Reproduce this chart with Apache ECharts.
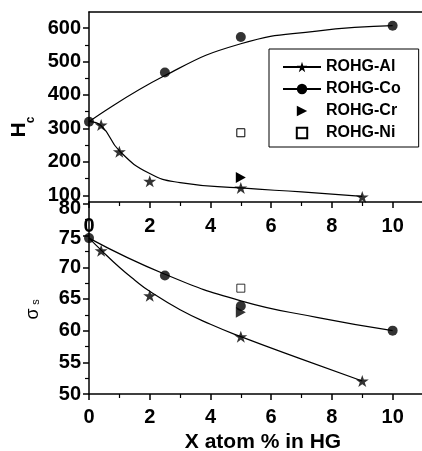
<!DOCTYPE html>
<html><head><meta charset="utf-8">
<script src="https://cdn.jsdelivr.net/npm/echarts@6/dist/echarts.min.js"></script>
<style>html,body{margin:0;padding:0;background:#fff}#c{width:422px;height:451px}</style>
</head><body><div id="c"></div>
<script>
// tick values
const xTickLabels = [0, 2, 4, 6, 8, 10];
const xMinorTicks = [1, 3, 5, 7, 9];
const hcTickLabels = [100, 200, 300, 400, 500, 600];
const hcMinorTicks = [150, 250, 350, 450, 550];
const sTickLabels = [50, 55, 60, 65, 70, 75, 80];
const sMinorTicks = [52.5, 57.5, 62.5, 67.5, 72.5, 77.5];

// series names
const names = ['ROHG-Al', 'ROHG-Co', 'ROHG-Cr', 'ROHG-Ni'];

// Hc data points
const alX = [0.4, 1, 2, 5, 9];
const alHc = [310, 230, 142, 122, 95];
const coX = [0, 2.5, 5, 10];
const coHc = [320, 467, 573, 607];
const crX = [5];
const crHc = [153];
const niX = [5];
const niHc = [287];

// sigma_s data points
const alSX = [0.4, 2, 5, 9];
const alS = [72.6, 65.5, 59.05, 52.05];
const coSX = [0, 2.5, 5, 10];
const coS = [74.6, 68.7, 63.9, 60.0];
const crS = [62.9];
const niS = [66.7];

// fitted curves
const alHcFitX = [0, 0.4, 1, 2, 3, 5, 7, 9];
const alHcFit = [320, 308, 233, 165, 138, 122, 110, 97];
const coHcFitX = [0, 2.5, 5, 7.5, 10];
const coHcFit = [320, 458, 553, 591, 607];
const alSFitX = [0, 0.4, 1, 1.5, 2, 3, 4, 5, 7, 9];
const alSFit = [74.6, 72.7, 70.0, 68.0, 66.2, 63.3, 61.0, 59.05, 55.5, 52.05];
const coSFitX = [0, 2.5, 5, 7.5, 10];
const coSFit = [74.6, 68.9, 64.7, 62.1, 60.0];

const pts = (xs, ys) => xs.map((x, i) => [x, ys[i]]);
const FONT = 'Liberation Sans';
const STAR = 'path://M12,0 L14.9,8.6 L24,8.6 L16.6,14 L19.4,22.8 L12,17.4 L4.6,22.8 L7.4,14 L0,8.6 L9.1,8.6 Z';
const TRI = 'path://M0,0 L11,6 L0,12 Z';
const BLACK = '#000';

const chart = echarts.init(document.getElementById('c'), null, {renderer: 'canvas'});

const lbl = {color: BLACK, fontFamily: FONT, fontWeight: 'bold', fontSize: 20};
const gridBase = {containLabel: false, outerBoundsMode: 'none'};
const G0 = Object.assign({left: 89, top: 12, width: 334, height: 190}, gridBase);
const G1 = Object.assign({left: 89, top: 202, width: 334, height: 192}, gridBase);

function majorX(grid, pos, margin) {
  return {
    gridIndex: grid, type: 'value', min: 0, max: 11, position: pos,
    axisLine: {show: true, lineStyle: {color: BLACK, width: 1.5}},
    axisTick: {show: true, customValues: xTickLabels, length: 6, inside: false, lineStyle: {color: BLACK, width: 1.5}},
    axisLabel: Object.assign({show: true, customValues: xTickLabels, margin: margin}, lbl),
    splitLine: {show: false}
  };
}
function minorX(grid) {
  return {
    gridIndex: grid, type: 'value', min: 0, max: 11, position: 'bottom',
    axisLine: {show: false},
    axisTick: {show: true, customValues: xMinorTicks, length: 4, lineStyle: {color: BLACK, width: 1.2}},
    axisLabel: {show: false}, splitLine: {show: false}
  };
}
function majorY(grid, min, max, ticks, formatter, rich) {
  const label = Object.assign({show: true, customValues: ticks, margin: 8}, lbl);
  if (formatter) { label.formatter = formatter; label.rich = rich; }
  return {
    gridIndex: grid, type: 'value', min: min, max: max, position: 'left',
    axisLine: {show: true, lineStyle: {color: BLACK, width: 1.5}},
    axisTick: {show: true, customValues: ticks, length: 6, lineStyle: {color: BLACK, width: 1.5}},
    axisLabel: label,
    splitLine: {show: false}
  };
}
function minorY(grid, min, max, ticks) {
  return {
    gridIndex: grid, type: 'value', min: min, max: max, position: 'left',
    axisLine: {show: false},
    axisTick: {show: true, customValues: ticks, length: 4, lineStyle: {color: BLACK, width: 1.2}},
    axisLabel: {show: false}, splitLine: {show: false}
  };
}

function fitLine(name, data, xi, yi, symbol, size) {
  return {
    type: 'line', name: name, xAxisIndex: xi, yAxisIndex: yi, data: data,
    smooth: 0.5, symbol: symbol, symbolSize: size, showSymbol: false,
    lineStyle: {color: BLACK, width: 1.2}, itemStyle: {color: BLACK}, z: 2, silent: true
  };
}
function pointOnly(name, data, xi, yi, symbol, size, item) {
  return {
    type: 'line', name: name, xAxisIndex: xi, yAxisIndex: yi, data: data,
    symbol: symbol, symbolSize: size, showSymbol: true,
    lineStyle: {width: 0, opacity: 0}, itemStyle: item, z: 4, silent: true
  };
}
function scat(name, data, xi, yi, symbol, size, item) {
  return {
    type: 'scatter', name: name, xAxisIndex: xi, yAxisIndex: yi, data: data,
    symbol: symbol, symbolSize: size, itemStyle: item, z: 5, silent: true
  };
}
const solid = {color: BLACK};
const hollow = {color: '#fff', borderColor: BLACK, borderWidth: 1};

// bottom-panel top labels sit a little lower, as in the reference
const sFormatter = v => v === 80 ? '{d8|80}' : (v === 75 ? '{d5|75}' : String(v));
const sRich = {
  d8: {padding: [10, 0, 0, 0], fontSize: 20, fontWeight: 'bold', fontFamily: FONT, color: BLACK},
  d5: {padding: [6, 0, 0, 0], fontSize: 20, fontWeight: 'bold', fontFamily: FONT, color: BLACK}
};

const option = {
  animation: false,
  backgroundColor: '#fff',
  grid: [G0, G1, Object.assign({}, G0), Object.assign({}, G1)],
  xAxis: [
    majorX(0, 'bottom', 14),
    {gridIndex: 0, type: 'value', min: 0, max: 11, position: 'top',
     axisLine: {show: true, lineStyle: {color: BLACK, width: 1.5}}, axisTick: {show: false}, axisLabel: {show: false}, splitLine: {show: false}},
    minorX(2),
    majorX(1, 'bottom', 13),
    minorX(3)
  ],
  yAxis: [
    majorY(0, 80, 648, hcTickLabels),
    minorY(2, 80, 648, hcMinorTicks),
    majorY(1, 50, 80.3, sTickLabels, sFormatter, sRich),
    minorY(3, 50, 80.3, sMinorTicks)
  ],
  legend: {
    orient: 'vertical', left: 269, top: 49,
    padding: [10, 18, 6, 13], itemGap: 6, itemWidth: 38, itemHeight: 13, itemTextGap: 8,
    backgroundColor: '#fff', borderColor: BLACK, borderWidth: 1, borderRadius: 0,
    textStyle: {color: BLACK, fontFamily: FONT, fontWeight: 'bold', fontSize: 16, lineHeight: 14},
    data: names, selectedMode: false
  },
  series: [
    fitLine(names[0], pts(alHcFitX, alHcFit), 0, 0, STAR, [13, 12]),
    fitLine(names[1], pts(coHcFitX, coHcFit), 0, 0, 'circle', 10),
    pointOnly(names[2], pts(crX, crHc), 0, 0, TRI, [10, 11], solid),
    pointOnly(names[3], pts(niX, niHc), 0, 0, 'rect', 8, hollow),
    scat(names[0], pts(alX, alHc), 0, 0, STAR, [13, 12], solid),
    scat(names[1], pts(coX, coHc), 0, 0, 'circle', 10, solid),
    fitLine(names[0], pts(alSFitX, alSFit), 3, 2, STAR, [13, 12]),
    fitLine(names[1], pts(coSFitX, coSFit), 3, 2, 'circle', 10),
    scat(names[2], pts(crX, crS), 3, 2, TRI, [10, 11], solid),
    scat(names[3], pts(niX, niS), 3, 2, 'rect', 8, hollow),
    scat(names[0], pts(alSX, alS), 3, 2, STAR, [13, 12], solid),
    scat(names[1], pts(coSX, coS), 3, 2, 'circle', 10, solid)
  ],
  graphic: [
    {type: 'text', x: 19.5, y: 130, rotation: Math.PI / 2, z: 100,
     style: {text: 'H', fill: BLACK, font: 'bold 21px "Liberation Sans"', align: 'center', verticalAlign: 'middle'}},
    {type: 'text', x: 31, y: 120, rotation: Math.PI / 2, z: 100,
     style: {text: 'c', fill: BLACK, font: 'bold 12px "Liberation Sans"', align: 'center', verticalAlign: 'middle'}},
    {type: 'text', x: 33, y: 314, rotation: Math.PI / 2, z: 100,
     style: {text: 'σ', fill: BLACK, font: '18px "Liberation Sans"', align: 'center', verticalAlign: 'middle'}},
    {type: 'text', x: 36, y: 302, rotation: Math.PI / 2, z: 100,
     style: {text: 's', fill: BLACK, font: '11px "Liberation Sans"', align: 'center', verticalAlign: 'middle'}},
    {type: 'text', x: 263, y: 442, z: 100,
     style: {text: 'X atom % in HG', fill: BLACK, font: 'bold 21px "Liberation Sans"', align: 'center', verticalAlign: 'middle'}}
  ]
};
chart.setOption(option);
</script>
</body></html>
